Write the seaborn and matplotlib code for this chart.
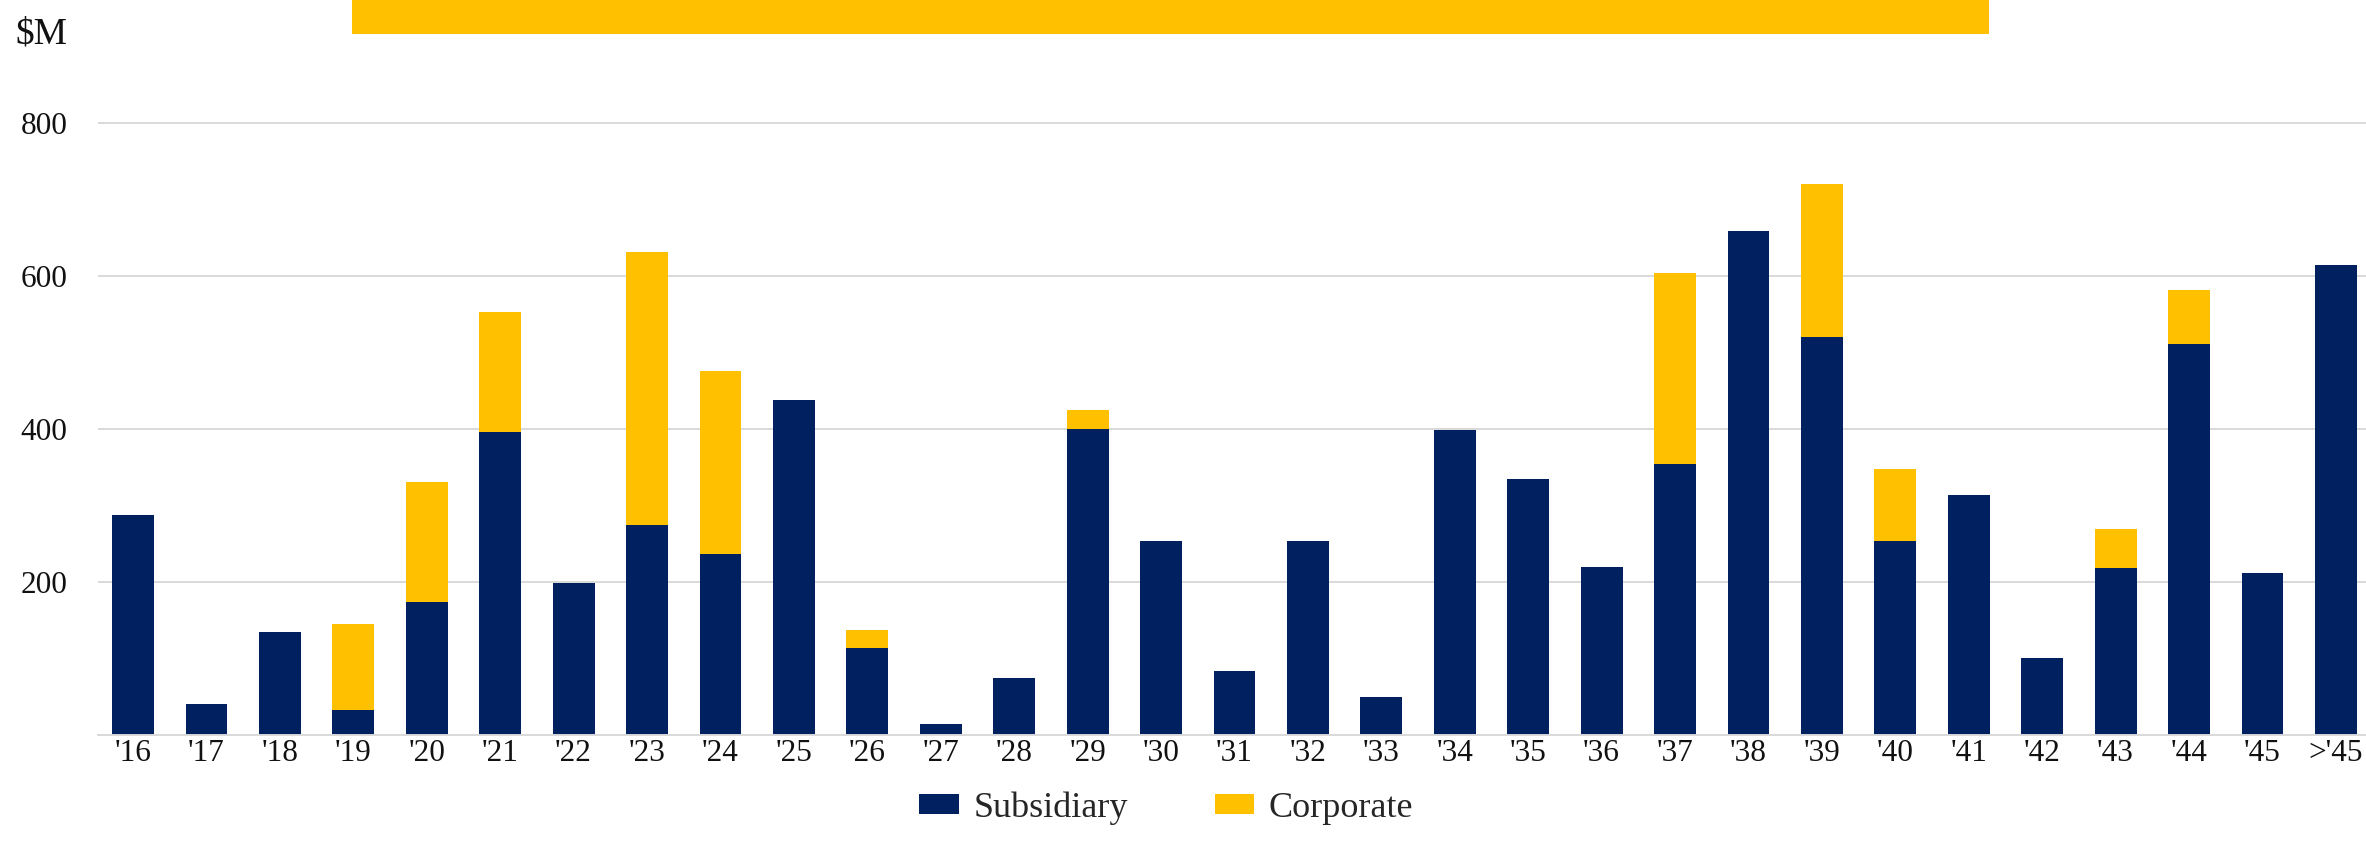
import matplotlib
matplotlib.use("Agg")
import matplotlib.pyplot as plt
import seaborn as sns
import numpy as np
import pandas as pd
from matplotlib.patches import Patch, Rectangle

categories = ["'16", "'17", "'18", "'19", "'20", "'21", "'22", "'23", "'24", "'25",
              "'26", "'27", "'28", "'29", "'30", "'31", "'32", "'33", "'34", "'35",
              "'36", "'37", "'38", "'39", "'40", "'41", "'42", "'43", "'44", "'45", ">'45"]
subsidiary = [287, 40, 134, 33, 174, 396, 199, 274, 236, 438,
              113, 15, 75, 400, 253, 84, 254, 49, 398, 334,
              220, 354, 659, 520, 254, 313, 101, 218, 511, 212, 614]
corporate = [0, 0, 0, 112, 157, 157, 0, 357, 239, 0,
             24, 0, 0, 25, 0, 0, 0, 0, 0, 0,
             0, 250, 0, 200, 94, 0, 0, 51, 70, 0, 0]
yticks = [200, 400, 600, 800]
series_names = ["Subsidiary", "Corporate"]

NAVY = "#002060"
GOLD = "#FFC000"

df = pd.DataFrame({"cat": categories,
                   "sub": subsidiary,
                   "total": np.array(subsidiary) + np.array(corporate)})

sns.set_theme(style="white")
plt.rcParams["font.family"] = ["Liberation Serif", "DejaVu Serif"]

W, H = 2366, 865
fig = plt.figure(figsize=(W / 100, H / 100), dpi=100)
ax_left, ax_right = 98 / W, 1.0
y0_px = 735
px_per_unit = 153.1 / 200
ymax = 820
top_px = y0_px - ymax * px_per_unit
ax = fig.add_axes([ax_left, 1 - y0_px / H, ax_right - ax_left, (y0_px - top_px) / H])

sns.barplot(data=df, x="cat", y="total", color=GOLD, width=0.57, ax=ax,
            saturation=1, linewidth=0)
sns.barplot(data=df, x="cat", y="sub", color=NAVY, width=0.57, ax=ax,
            saturation=1, linewidth=0)

ax.set_xlim(-0.477, 30.41)
ax.set_ylim(0, ymax)
ax.set_yticks(yticks)
ax.set_yticklabels([str(v) for v in yticks])
ax.yaxis.grid(True, color="#D9D9D9", linewidth=1.4)
ax.set_axisbelow(True)
for s in ["top", "right", "left"]:
    ax.spines[s].set_visible(False)
ax.spines["bottom"].set_color("#D9D9D9")
ax.spines["bottom"].set_linewidth(1.4)
ax.set_xlabel("")
ax.set_ylabel("")
ax.tick_params(axis="y", length=0, pad=22, labelsize=22.5, labelcolor="#111111")
ax.tick_params(axis="x", length=0, pad=3, labelsize=22.5, labelcolor="#111111")

# legend
handles = [Patch(facecolor=NAVY, edgecolor="none"), Patch(facecolor=GOLD, edgecolor="none")]
fig.legend(handles, series_names, loc="center", bbox_to_anchor=(0.493, 1 - 808 / H),
           ncol=2, frameon=False, fontsize=26, handlelength=1.1, handleheight=0.45,
           handletextpad=0.4, columnspacing=2.4, borderaxespad=0, borderpad=0)

# "$M" unit label and top accent bar
fig.text(15 / W, 1 - 43 / H, r"\$M", fontsize=27, ha="left", va="baseline", color="#111111")
fig.patches.append(Rectangle((352 / W, 1 - 34 / H), (1989 - 352) / W, 34 / H,
                             transform=fig.transFigure, facecolor=GOLD, edgecolor="none"))

fig.savefig("out.png", dpi=100)
